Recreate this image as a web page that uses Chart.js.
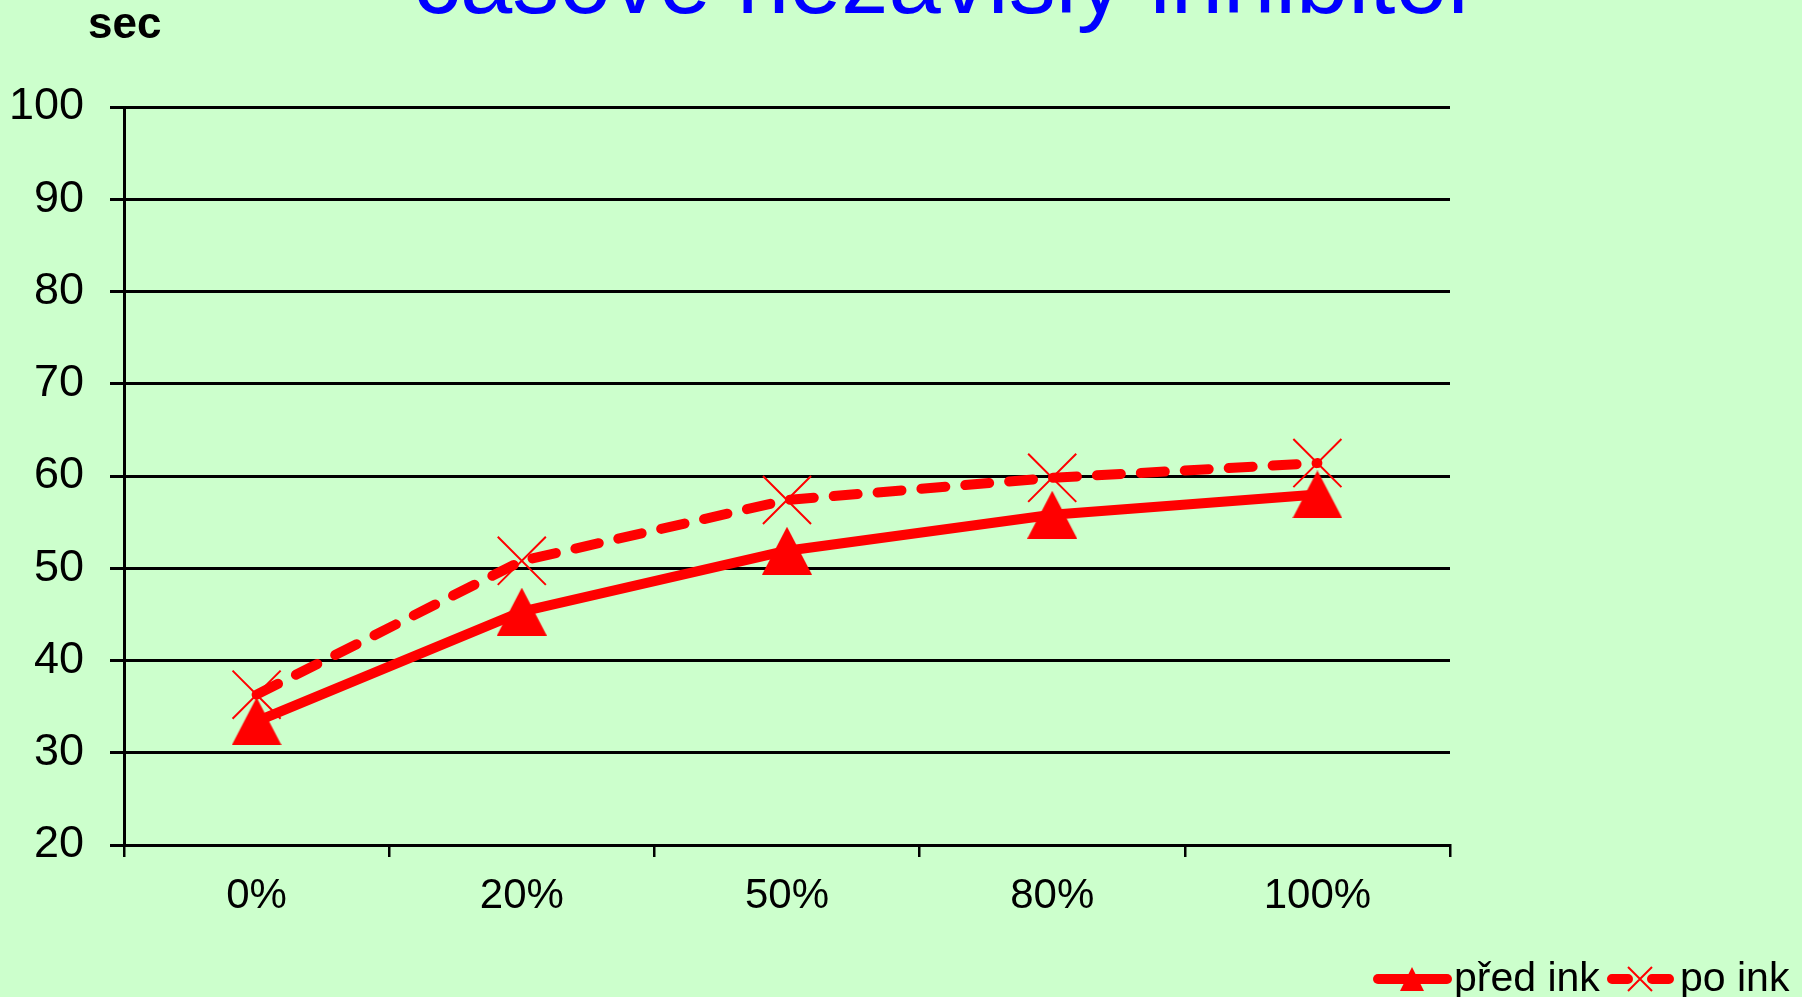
<!DOCTYPE html>
<html>
<head>
<meta charset="utf-8">
<script src="https://cdn.jsdelivr.net/npm/chart.js@4.4.1/dist/chart.umd.min.js"></script>
<style>
    html, body { margin: 0; padding: 0; background: #ccffcc; }
    #wrap { width: 1802px; height: 997px; position: relative; }
</style>
</head>
<body>
<div id="wrap"><canvas id="chart"></canvas></div>
<script>
const categories = ['0%', '20%', '50%', '80%', '100%'];
const predInk = [33.4, 45.3, 51.9, 55.8, 58.0];
const poInk = [36.3, 50.8, 57.4, 59.8, 61.4];
const yTicks = [20, 30, 40, 50, 60, 70, 80, 90, 100];

const titleText = 'časově nezávislý inhibitor';
const unitText = 'sec';
const seriesNames = ['před ink', 'po ink'];

const RED = '#ff0000';
const FONT = '"Liberation Sans", Arial, sans-serif';

/* filled triangle marker drawn into a small canvas */
function triangleImage(w, h) {
    const c = document.createElement('canvas');
    c.width = w;
    c.height = h;
    const g = c.getContext('2d');
    g.fillStyle = RED;
    g.beginPath();
    g.moveTo(w / 2, 0);
    g.lineTo(w, h);
    g.lineTo(0, h);
    g.closePath();
    g.fill();
    return c;
}

const bigTriangle = triangleImage(50, 48);
const smallTriangle = triangleImage(24, 24);

/* ---------- title, unit label and legend ---------- */
const decorations = {
    id: 'decorations',
    afterDraw(chart) {
        const ctx = chart.ctx;
        ctx.save();

        ctx.fillStyle = '#0000ff';
        ctx.font = '94px ' + FONT;
        ctx.textAlign = 'center';
        ctx.textBaseline = 'alphabetic';
        ctx.fillText(titleText, 946, 13);

        ctx.fillStyle = '#000';
        ctx.font = 'bold 44px ' + FONT;
        ctx.textAlign = 'left';
        ctx.fillText(unitText, 88, 38);

        // legend
        const ly = 979;
        ctx.strokeStyle = RED;
        ctx.lineWidth = 10;
        ctx.lineCap = 'round';

        ctx.beginPath();
        ctx.moveTo(1378, ly);
        ctx.lineTo(1447, ly);
        ctx.stroke();
        ctx.drawImage(smallTriangle, 1412 - 12, ly - 12);

        ctx.beginPath();
        ctx.moveTo(1612, ly);
        ctx.lineTo(1628, ly);
        ctx.moveTo(1652, ly);
        ctx.lineTo(1669, ly);
        ctx.stroke();

        ctx.lineWidth = 2;
        ctx.lineCap = 'butt';
        ctx.beginPath();
        ctx.moveTo(1628, ly - 12);
        ctx.lineTo(1652, ly + 12);
        ctx.moveTo(1652, ly - 12);
        ctx.lineTo(1628, ly + 12);
        ctx.stroke();

        ctx.fillStyle = '#000';
        ctx.font = '41px ' + FONT;
        ctx.textBaseline = 'alphabetic';
        ctx.fillText(seriesNames[0], 1454, 991);
        ctx.fillText(seriesNames[1], 1680, 991);

        ctx.restore();
    }
};

new Chart(document.getElementById('chart'), {
    type: 'line',
    data: {
        labels: categories,
        datasets: [
            {
                label: seriesNames[0],
                data: predInk,
                borderColor: RED,
                backgroundColor: RED,
                borderWidth: 10,
                borderCapStyle: 'round',
                borderJoinStyle: 'round',
                tension: 0,
                pointStyle: bigTriangle,
                pointRadius: 25
            },
            {
                label: seriesNames[1],
                data: poInk,
                borderColor: RED,
                backgroundColor: RED,
                borderWidth: 10,
                borderDash: [24, 20],
                borderCapStyle: 'round',
                tension: 0,
                pointStyle: 'crossRot',
                pointRadius: 34,
                pointBorderWidth: 2,
                pointBorderColor: RED
            }
        ]
    },
    options: {
        responsive: true,
        maintainAspectRatio: false,
        animation: false,
        layout: { padding: { top: 107, right: 352, bottom: 0, left: 0 } },
        plugins: {
            legend: { display: false },
            tooltip: { enabled: false },
            title: { display: false }
        },
        scales: {
            x: {
                offset: true,
                afterFit: (scale) => { scale.height = 152; },
                grid: {
                    offset: true,
                    drawOnChartArea: false,
                    drawTicks: true,
                    tickLength: 12,
                    color: '#000',
                    lineWidth: 2.5
                },
                border: { display: true, color: '#000', width: 3 },
                ticks: {
                    color: '#000',
                    font: { family: FONT, size: 42 },
                    padding: 14,
                    maxRotation: 0
                }
            },
            y: {
                min: yTicks[0],
                max: yTicks[yTicks.length - 1],
                afterFit: (scale) => { scale.width = 124; },
                afterBuildTicks: (scale) => { scale.ticks = yTicks.map((v) => ({ value: v })); },
                grid: {
                    color: '#000',
                    lineWidth: 3,
                    drawTicks: true,
                    tickLength: 14
                },
                border: { display: true, color: '#000', width: 3 },
                ticks: {
                    color: '#000',
                    font: { family: FONT, size: 45 },
                    padding: 26
                }
            }
        }
    },
    plugins: [decorations]
});
</script>
</body>
</html>
